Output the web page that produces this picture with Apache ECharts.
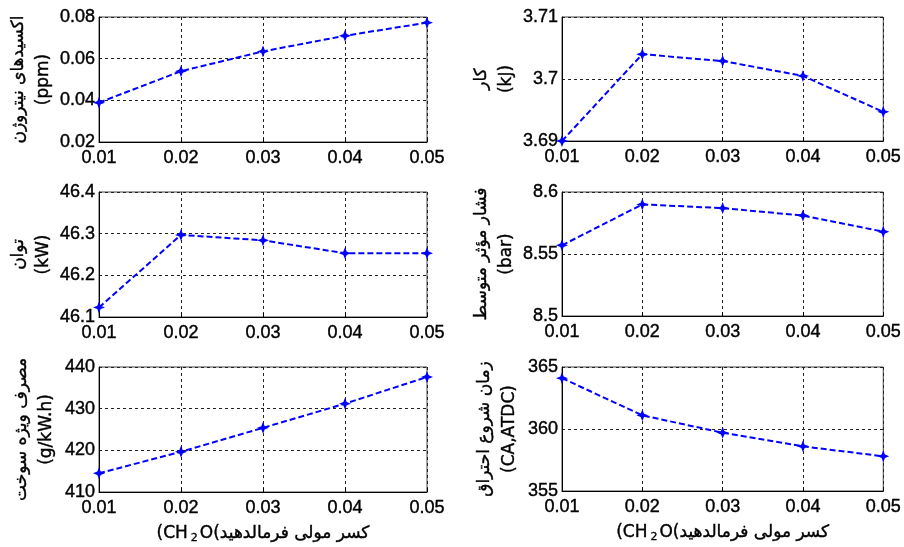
<!DOCTYPE html>
<html>
<head>
<meta charset="utf-8">
<script src="https://cdn.jsdelivr.net/npm/echarts@6/dist/echarts.min.js"></script>
<style>
html, body { margin: 0; padding: 0; background: #fff; }
#chart { width: 904px; height: 547px; }
</style>
</head>
<body>
<div id="chart"></div>
<script>
// mole fraction of formaldehyde on every x axis
var xCats = ['0.01', '0.02', '0.03', '0.04', '0.05'];

var noxVals = [0.0389, 0.054, 0.0635, 0.071, 0.0773];
var workVals = [3.690, 3.7040, 3.7029, 3.7005, 3.6947];
var powerVals = [46.123, 46.297, 46.284, 46.253, 46.253];
var imepVals = [8.557, 8.590, 8.587, 8.581, 8.568];
var bsfcVals = [414.5, 419.65, 425.4, 431.2, 437.6];
var socVals = [364.1, 361.1, 359.7, 358.6, 357.8];

var yNames = [
    'اکسیدهای نیتروژن\n(ppm)',
    'کار\n(kJ)',
    'توان\n(kW)',
    'فشار مؤثر متوسط\n(bar)',
    'مصرف ویژه سوخت\n(g/kW.h)',
    'زمان شروع احتراق\n(CA,ATDC)'
];
var yMin = [0.02, 3.69, 46.1, 8.5, 410, 355];
var yMax = [0.08, 3.71, 46.4, 8.6, 440, 365];
var yStep = [0.02, 0.01, 0.1, 0.05, 10, 5];
// x title drawn as separate pieces so the mixed-direction text keeps the reference order
var xTitle = '{l|(CH}{s|2}{l|O(}{p|کسر مولی فرمالدهید}';

var seriesData = [noxVals, workVals, powerVals, imepVals, bsfcVals, socVals];

var font = 'Liberation Sans, Arial, DejaVu Sans, sans-serif';
var grids = [
    {left: 99, top: 17, width: 328, height: 125},
    {left: 562, top: 17, width: 326, height: 124},
    {left: 99, top: 192, width: 328, height: 125},
    {left: 562, top: 192, width: 326, height: 124},
    {left: 99, top: 367, width: 328, height: 125},
    {left: 562, top: 367, width: 326, height: 124}
];
var star = 'path://M0,-6L1.7,-1.7L6,0L1.7,1.7L0,6L-1.7,1.7L-6,0L-1.7,-1.7Z';
var bold = {textBorderColor: '#000', textBorderWidth: 0.4};

var options = {
    animation: false,
    backgroundColor: '#fff',
    grid: [],
    xAxis: [],
    yAxis: [],
    series: []
};

for (var i = 0; i < 6; i++) {
    options.grid.push({
        left: grids[i].left, top: grids[i].top,
        width: grids[i].width, height: grids[i].height,
        show: true, borderColor: '#444', borderWidth: 1
    });
    options.xAxis.push({
        type: 'category',
        gridIndex: i,
        data: xCats,
        boundaryGap: false,
        name: i >= 4 ? xTitle : '',
        nameLocation: 'middle',
        nameGap: 31,
        nameTextStyle: {
            fontSize: 17, color: '#000', fontFamily: 'DejaVu Sans, sans-serif',
            rich: {
                l: {fontSize: 17, color: '#000', fontFamily: 'DejaVu Sans, sans-serif', letterSpacing: 1,
                    textBorderColor: '#000', textBorderWidth: 0.4},
                s: {fontSize: 11, color: '#000', fontFamily: 'DejaVu Sans, sans-serif', padding: [10, 2, 0, 3],
                    textBorderColor: '#000', textBorderWidth: 0.3},
                p: {fontSize: 17, color: '#000', fontFamily: 'DejaVu Sans, sans-serif',
                    textBorderColor: '#000', textBorderWidth: 0.4}
            }
        },
        axisLine: {lineStyle: {color: '#000'}},
        axisTick: {inside: true, length: 4, lineStyle: {color: '#000'}},
        axisLabel: Object.assign({fontSize: 18, color: '#000', fontFamily: font, margin: 7}, bold),
        splitLine: {show: true, lineStyle: {color: '#222', type: [3, 3], width: 1}}
    });
    options.yAxis.push({
        type: 'value',
        gridIndex: i,
        min: yMin[i],
        max: yMax[i],
        interval: yStep[i],
        name: yNames[i],
        nameLocation: 'middle',
        nameRotate: 90,
        nameGap: 40,
        nameTextStyle: Object.assign({fontSize: 17, color: '#000', fontFamily: 'DejaVu Sans, sans-serif', lineHeight: 25}, bold),
        axisLine: {show: true, lineStyle: {color: '#000'}},
        axisTick: {inside: true, length: 4, lineStyle: {color: '#000'}},
        axisLabel: Object.assign({fontSize: 18, color: '#000', fontFamily: font, margin: 4}, bold),
        splitLine: {show: true, lineStyle: {color: '#222', type: [3, 3], width: 1}}
    });
    options.series.push({
        type: 'line',
        xAxisIndex: i,
        yAxisIndex: i,
        data: seriesData[i],
        symbol: star,
        symbolSize: 12,
        itemStyle: {color: '#0000ff'},
        lineStyle: {color: '#0000ff', width: 2, type: [6, 3]}
    });
}

var myChart = echarts.init(document.getElementById('chart'));
myChart.setOption(options);
</script>
</body>
</html>
